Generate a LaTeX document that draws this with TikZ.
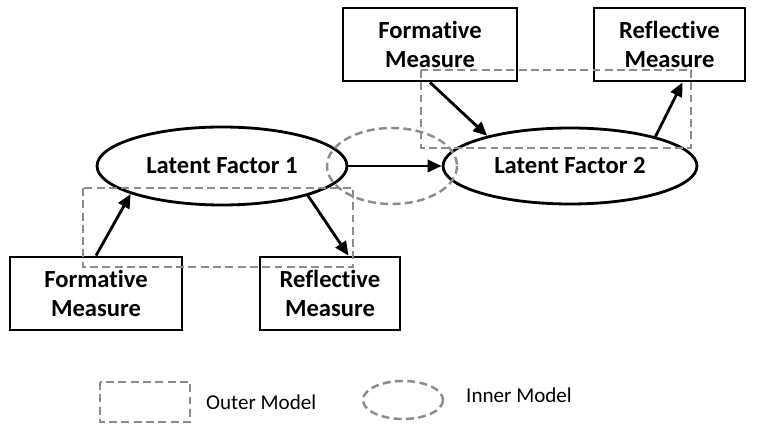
\documentclass[tikz,border=0pt]{standalone}
\usepackage{fontspec}
\setmainfont{Carlito}[Ligatures=NoCommon]
\usetikzlibrary{arrows.meta,shapes.geometric}

\begin{document}
\begin{tikzpicture}[x=0.02cm, y=-0.02cm,
	measure/.style={draw, line width=1.6pt, align=center, minimum height=1.46cm,
		inner sep=0pt, font=\bfseries\fontsize{14}{16}\selectfont},
	factor/.style={draw, ellipse, line width=1.6pt, inner sep=0pt,
		minimum width=5cm, minimum height=1.56cm, font=\bfseries\fontsize{14}{16}\selectfont},
	link/.style={line width=1.6pt, -{Triangle[length=8pt,width=7pt]}},
	model/.style={draw=gray!90, line width=1.4pt, dash pattern=on 4.5pt off 2.5pt}]
	\useasboundingbox (0,0) rectangle (761,425);
	\node[factor] (lf1) at (222,166) {Latent Factor 1};
	\node[factor, minimum width=5.08cm, minimum height=1.52cm] (lf2) at (570,166) {Latent Factor 2};
	\node[measure, minimum width=3.44cm] (fm1) at (96,293.5) {Formative\\Measure};
	\node[measure, minimum width=2.8cm] (rm1) at (330,293.5) {Reflective\\Measure};
	\node[measure, minimum width=3.48cm] (fm2) at (430,44.5) {Formative\\Measure};
	\node[measure, minimum width=3.02cm] (rm2) at (669.5,44.5) {Reflective\\Measure};
	\draw[model] (83,188) rectangle (353,267);
	\draw[model] (421,70) rectangle (691,148);
	\draw[model] (392,166) ellipse [x radius=65, y radius=38];
	\draw[link] (lf1) -- (lf2);
	\draw[link] (fm1.north) -- (lf1.197);
	\draw[link] (lf1.341) -- (rm1.64);
	\draw[link] (fm2.south) -- (lf2.160);
	\draw[link] (lf2.19) -- (rm2.289);
	\draw[model] (100,382) rectangle (190,422);
	\node[anchor=west, font=\fontsize{12}{14}\selectfont] (outer) at (200,402) {Outer Model};
	\draw[model] (403,400) ellipse [x radius=40, y radius=19];
	\node[anchor=west, font=\fontsize{12}{14}\selectfont] (inner) at (460,395) {Inner Model};
\end{tikzpicture}
\end{document}
